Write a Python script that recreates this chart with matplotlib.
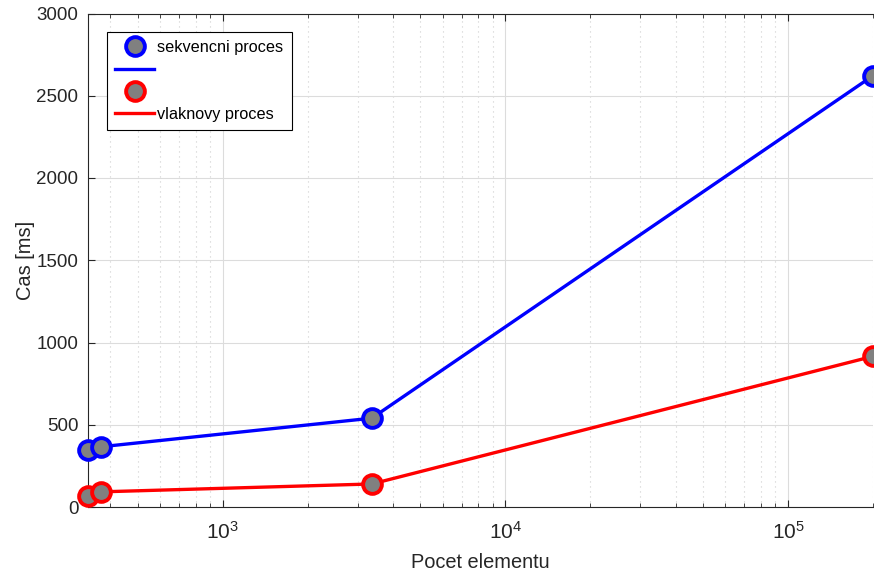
import numpy as np
import matplotlib
matplotlib.use("Agg")
import matplotlib.pyplot as plt
from matplotlib.ticker import LogLocator, FixedLocator, FuncFormatter, NullFormatter

plt.rcParams["font.family"] = ["Liberation Sans", "DejaVu Sans"]
plt.rcParams["mathtext.fontset"] = "custom"
plt.rcParams["mathtext.rm"] = "Liberation Sans"
plt.rcParams["mathtext.it"] = "Liberation Sans"

# data
pocet = [333, 369, 3365, 200000]
sekvencni = [347, 366, 540, 2622]
vlaknovy = [67, 92, 140, 916]
labels = ["sekvencni proces", "", "", "vlaknovy proces"]

dark = "#262626"

fig = plt.figure(figsize=(8.74, 5.76), dpi=100)
ax = fig.add_axes([88 / 874, 1 - 507 / 576, 785 / 874, (507 - 13.5) / 576])

ax.set_xscale("log")
ax.set_xlim(333, 200000)
ax.set_ylim(0, 3000)

# grid like matlab
ax.grid(True, which="major", color="#dcdcdc", linewidth=0.8, linestyle="-")
ax.xaxis.grid(True, which="minor", color="#cfcfcf", linewidth=0.8, linestyle=(0, (1, 3.5)))
ax.set_axisbelow(True)

m1, = ax.plot(pocet, sekvencni, linestyle="none", marker="o", markersize=13.5,
              markerfacecolor="#808080", markeredgecolor="blue", markeredgewidth=2.8,
              clip_on=False, zorder=4)
l1, = ax.plot(pocet, sekvencni, color="blue", linewidth=2.4, zorder=3, clip_on=False)
m2, = ax.plot(pocet, vlaknovy, linestyle="none", marker="o", markersize=13.5,
              markerfacecolor="#808080", markeredgecolor="red", markeredgewidth=2.8,
              clip_on=False, zorder=4)
l2, = ax.plot(pocet, vlaknovy, color="red", linewidth=2.4, zorder=3, clip_on=False)

ax.xaxis.set_major_locator(FixedLocator([1e3, 1e4, 1e5]))
ax.xaxis.set_major_formatter(FuncFormatter(lambda v, p: r"$10^{%d}$" % round(np.log10(v))))
ax.xaxis.set_minor_locator(LogLocator(base=10, subs=np.arange(2, 10)))
ax.xaxis.set_minor_formatter(NullFormatter())
ax.set_yticks(np.arange(0, 3001, 500))

ax.tick_params(which="both", direction="in", colors=dark, labelsize=13.5, top=True)
ax.tick_params(which="major", length=5, width=0.8, pad=7)
ax.tick_params(which="minor", length=3, width=0.6)
ax.tick_params(axis="x", labelsize=15, pad=10)
for s in ["left", "bottom", "top"]:
    ax.spines[s].set_color(dark)
    ax.spines[s].set_linewidth(0.8)
ax.spines["right"].set_visible(False)

ax.set_xlabel("Pocet elementu", fontsize=14.4, color=dark, labelpad=7)
ax.set_ylabel("Cas [ms]", fontsize=14.4, color=dark, labelpad=1)

leg = ax.legend([m1, l1, m2, l2], labels, loc="upper left",
                bbox_to_anchor=(19 / 785, 1 - 18.5 / 493.5), borderaxespad=0,
                fontsize=11.7, fancybox=False, framealpha=1, edgecolor="black",
                handlelength=2.4, handletextpad=0.2, labelspacing=0.45,
                borderpad=0.5)
leg.get_frame().set_linewidth(0.8)

fig.savefig("out.png", dpi=100)
